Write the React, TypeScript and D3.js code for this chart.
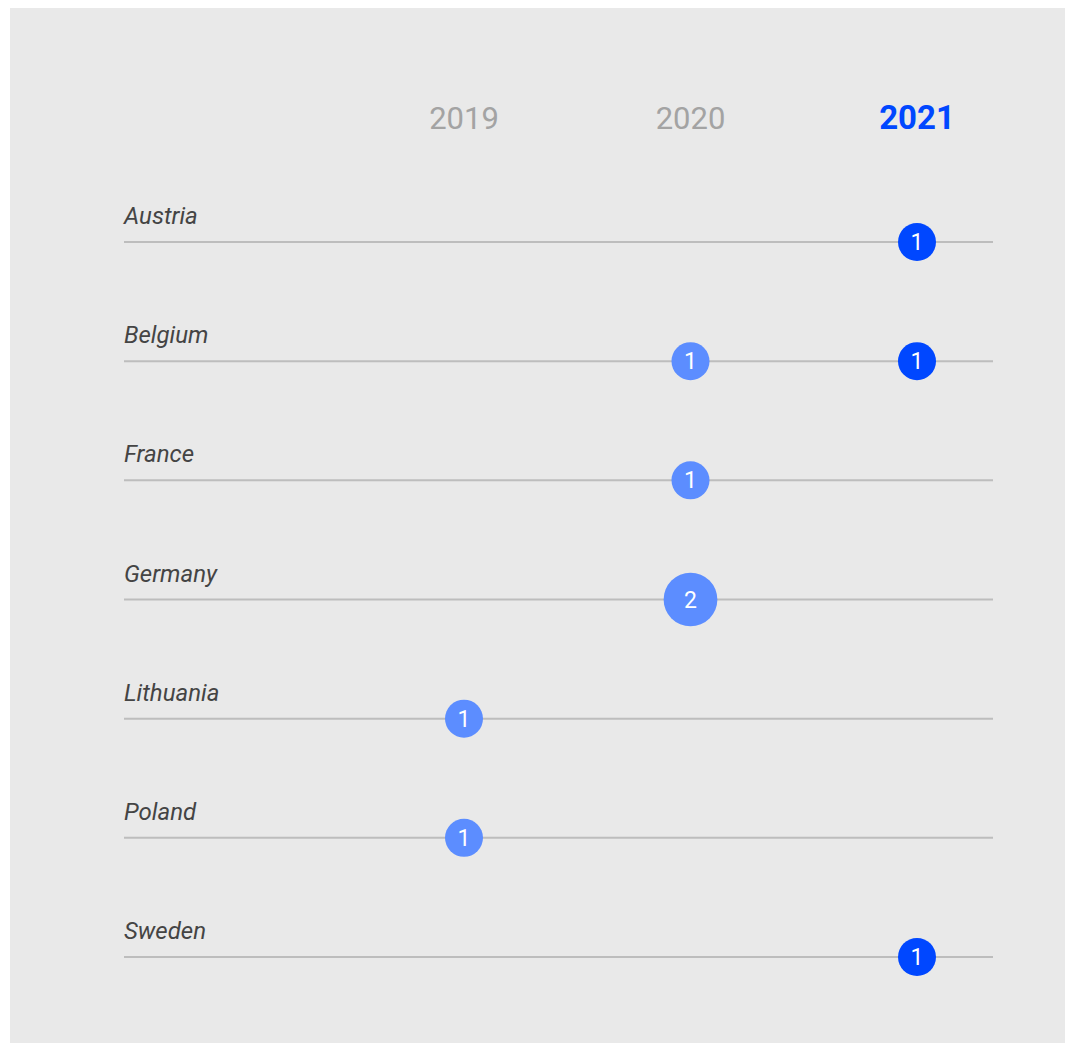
import React from "react";
import * as d3 from "d3";

const years = ["2019", "2020", "2021"];
const countries = ["Austria", "Belgium", "France", "Germany", "Lithuania", "Poland", "Sweden"];
// [country, year, count]
const entries: [string, string, number][] = [
  ["Austria", "2021", 1],
  ["Belgium", "2020", 1],
  ["Belgium", "2021", 1],
  ["France", "2020", 1],
  ["Germany", "2020", 2],
  ["Lithuania", "2019", 1],
  ["Poland", "2019", 1],
  ["Sweden", "2021", 1],
];
const highlightYear = "2021";

export default function App() {
  const W = 1065;
  const H = 1043;
  const x = d3.scalePoint<string>().domain(years).range([464, 917]);
  const y = d3.scalePoint<string>().domain(countries).range([242, 957]);
  const r = d3.scaleSqrt().domain([0, 1]).range([0, 19]);
  const font = "Roboto, 'Noto Sans', sans-serif";
  return (
    <svg
      width={W}
      height={H}
      style={{ display: "block", position: "absolute", left: 0, top: 0 }}
      fontFamily={font}
    >
      <rect x={10} y={8} width={W - 10} height={H - 8} fill="#e9e9e9" />
      {years.map((yr) => (
        <text
          key={yr}
          x={x(yr)}
          y={129}
          textAnchor="middle"
          fontSize={yr === highlightYear ? 33 : 31}
          fontWeight={yr === highlightYear ? 700 : 400}
          fill={yr === highlightYear ? "#0047ff" : "#a3a3a3"}
        >
          {yr}
        </text>
      ))}
      {countries.map((c) => (
        <g key={c}>
          <text x={124} y={y(c)! - 18} fontSize={24} fontStyle="italic" fill="#444">
            {c}
          </text>
          <line x1={124} x2={993} y1={y(c)} y2={y(c)} stroke="#bdbdbd" strokeWidth={2} />
        </g>
      ))}
      {entries.map(([c, yr, v], i) => (
        <g key={i} transform={`translate(${x(yr)},${y(c)})`}>
          <circle r={r(v)} fill={yr === highlightYear ? "#0047ff" : "#5c8dff"} />
          <text textAnchor="middle" dy="0.35em" fontSize={23} fill="#fff">
            {v}
          </text>
        </g>
      ))}
    </svg>
  );
}
